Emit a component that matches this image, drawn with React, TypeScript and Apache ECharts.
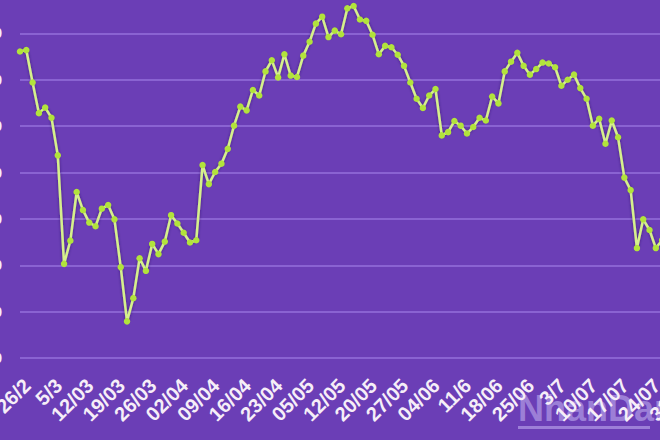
import React, { useEffect, useRef } from "react";
import * as echarts from "echarts";

// Weekly tick labels (one every 5 trading sessions)
const weekLabels = [
  "26/2", "5/3", "12/03", "19/03", "26/03", "02/04", "09/04", "16/04", "23/04",
  "05/05", "12/05", "20/05", "27/05", "04/06", "11/6", "18/06", "25/06", "3/7",
  "10/07", "17/07", "24/07", "31/07",
];

// Session index categories (5 sessions per week label)
const sessions = Array.from({ length: 106 }, (_, i) => String(i));

// Values
const values = [
  980.5, 982, 947, 914, 920, 909, 868.5, 751.5, 776.5, 829,
  809.5, 796, 792, 811, 815, 799.5, 748, 689.5, 714.5, 757.5,
  744, 773, 762, 775.5, 804, 795, 785, 774.5, 777, 858,
  837.5, 850.5, 859.5, 875.5, 900.5, 921, 917, 939, 933, 959,
  971, 952.5, 977.5, 954.5, 953, 976, 991, 1010.5, 1018, 996,
  1003, 999, 1027, 1029.5, 1015, 1013.5, 998.5, 977.5, 986.5, 985,
  977, 965, 947, 929.5, 919.5, 933, 940, 890, 893.5, 905.5,
  900.5, 892, 899, 909, 906, 932, 924.5, 959, 969.5, 979,
  965, 955.5, 961.5, 968.5, 967.5, 963.5, 943.5, 950, 955.5, 941,
  929.5, 900.5, 908, 881, 906, 888, 844.5, 831, 768.5, 799.5,
  788, 768.5, 777,
];

const yTicks = [650, 700, 750, 800, 850, 900, 950, 1000, 1050];

const labelFont = "'Liberation Sans Narrow', 'Liberation Sans', Arial, sans-serif";

export default function App() {
  const ref = useRef<HTMLDivElement>(null);

  useEffect(() => {
    if (!ref.current) return;
    const chart = echarts.init(ref.current, undefined, { renderer: "svg" });
    const last = sessions.length - 1;
    chart.setOption({
      animation: false,
      backgroundColor: "#6b3eb6",
      grid: { left: 60, right: 39, top: 5, bottom: 82, containLabel: false },
      graphic: {
        elements: [
          {
            type: "text",
            x: 558,
            y: 410,
            z: -10,
            silent: true,
            style: {
              x: 0,
              y: 0,
              text: "NhanDan",
              textVerticalAlign: "top",
              fill: "rgba(190,172,238,0.6)",
              font: "bold 36px " + labelFont,
            },
          },
          {
            type: "rect",
            z: -10,
            silent: true,
            shape: { x: 558, y: 446, width: 132, height: 3 },
            style: { fill: "rgba(190,172,238,0.6)" },
          },
        ],
      },
      xAxis: {
        type: "category",
        data: sessions,
        boundaryGap: false,
        z: 5,
        axisLine: { show: false },
        axisTick: { show: false },
        splitLine: { show: false },
        axisLabel: {
          interval: (idx: number) => idx % 5 === 0 || idx === 1 || idx === last - 1,
          rotate: 45,
          margin: 17,
          lineHeight: 20,
          showMinLabel: true,
          showMaxLabel: true,
          hideOverlap: false,
          color: "#f6eef8",
          fontSize: 20,
          fontWeight: "bold",
          fontFamily: labelFont,
          formatter: (_v: string, idx: number) =>
            idx % 5 === 0 && weekLabels[idx / 5] ? "\n" + weekLabels[idx / 5] : "",
        },
      },
      yAxis: {
        type: "value",
        min: yTicks[0],
        max: yTicks[yTicks.length - 1],
        interval: 50,
        axisLine: { show: false },
        axisTick: { show: false },
        axisLabel: {
          margin: 18,
          color: "#f6eef8",
          fontSize: 14,
          fontWeight: "bold",
          fontFamily: "Liberation Sans, Arial, sans-serif",
        },
        splitLine: { show: true, lineStyle: { color: "#8a63d2", width: 2 } },
      },
      series: [
        {
          type: "line",
          data: values,
          smooth: false,
          symbol: "circle",
          symbolSize: 6.5,
          showSymbol: true,
          showAllSymbol: true,
          itemStyle: { color: "#b2e33c", borderWidth: 0 },
          lineStyle: {
            color: "#d6f08c",
            width: 2.5,
            shadowColor: "rgba(40,10,80,0.6)",
            shadowBlur: 3,
          },
        },
      ],
    });
    return () => chart.dispose();
  }, []);

  return (
    <div
      style={{
        position: "fixed",
        left: 0,
        top: 0,
        width: 660,
        height: 440,
        overflow: "hidden",
        background: "#6b3eb6",
      }}
    >
      <div
        ref={ref}
        style={{ position: "absolute", left: -40, top: -20, width: 760, height: 460 }}
      />
    </div>
  );
}
